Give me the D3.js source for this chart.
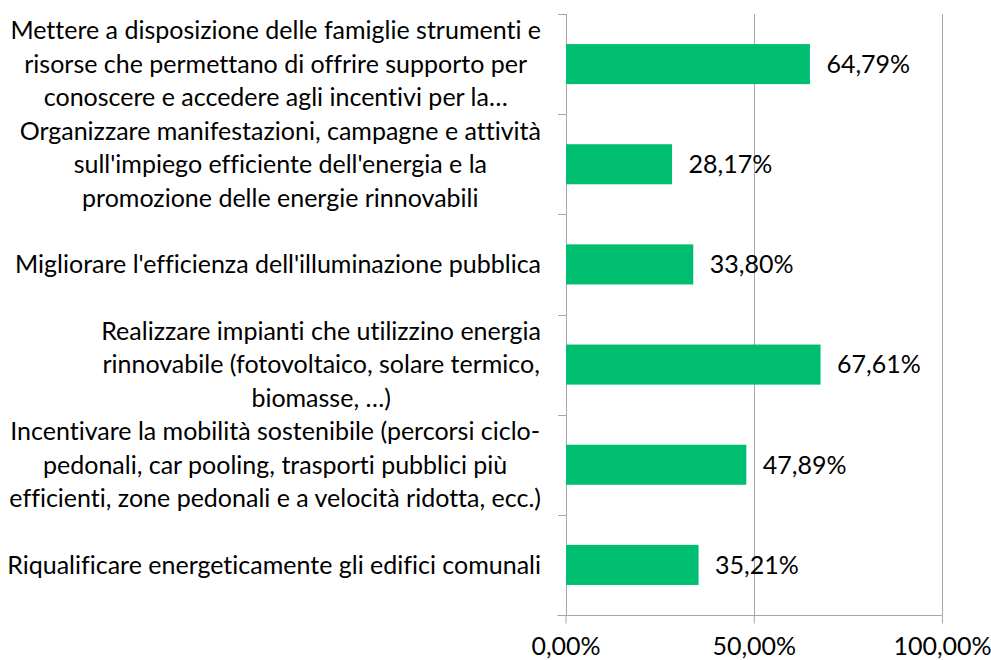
<!DOCTYPE html>
<html>
<head>
<meta charset="utf-8">
<script src="https://cdn.jsdelivr.net/npm/d3@7"></script>
<style>
  body { margin: 0; background: #fff; }
  svg { display: block; font-family: Lato, "Open Sans", sans-serif; font-variant-ligatures: none; }
</style>
</head>
<body>
<div id="chart"></div>
<script>
// category labels, already split into lines as in the original
const categories = [
  ["Mettere a disposizione delle famiglie strumenti e",
   "risorse che permettano di offrire supporto per",
   "conoscere e accedere agli incentivi per la…"],
  ["Organizzare manifestazioni, campagne e attività",
   "sull'impiego efficiente dell'energia e la",
   "promozione delle energie rinnovabili"],
  ["Migliorare l'efficienza dell'illuminazione pubblica"],
  ["Realizzare impianti che utilizzino energia",
   "rinnovabile (fotovoltaico, solare termico,",
   "biomasse, …)"],
  ["Incentivare la mobilità sostenibile (percorsi ciclo-",
   "pedonali, car pooling, trasporti pubblici più",
   "efficienti, zone pedonali e a velocità ridotta, ecc.)"],
  ["Riqualificare energeticamente gli edifici comunali"]
];
const values = [64.79, 28.17, 33.80, 67.61, 47.89, 35.21];
const xTicks = [0, 50, 100];

const width = 991;
const height = 660;
const marginTop = 14;
const marginBottom = 45;
const marginLeft = 565.5;
const marginRight = 49;
const fontSize = 25;
const lineHeight = 33.5;

const fmt = v => d3.format(".2f")(v).replace(".", ",") + "%";

const x = d3.scaleLinear()
    .domain([0, 100])
    .range([marginLeft, width - marginRight]);

const y = d3.scaleBand()
    .domain(d3.range(categories.length))
    .range([marginTop, height - marginBottom])
    .paddingInner(0.6)
    .paddingOuter(0.3);

const svg = d3.create("svg")
    .attr("width", width)
    .attr("height", height)
    .attr("viewBox", [0, 0, width, height]);

// vertical gridlines
svg.append("g")
    .selectAll("line")
    .data(xTicks.slice(1))
    .join("line")
      .attr("x1", d => Math.round(x(d)) + 0.5)
      .attr("x2", d => Math.round(x(d)) + 0.5)
      .attr("y1", marginTop)
      .attr("y2", height - marginBottom)
      .attr("stroke", "#a6a6a6")
      .attr("stroke-width", 1);

// bottom axis
svg.append("g")
    .attr("transform", `translate(0,${Math.round(height - marginBottom) + 0.5})`)
    .call(d3.axisBottom(x).tickValues(xTicks).tickFormat(fmt).tickSize(8).tickSizeOuter(0).tickPadding(14))
    .call(g => g.select(".domain").attr("stroke", "#a6a6a6").attr("d", `M${marginLeft - 8},0H${x(100)}`))
    .call(g => g.selectAll(".tick line").attr("stroke", "#a6a6a6"))
    .call(g => g.selectAll(".tick text")
        .attr("font-family", "Lato, sans-serif")
        .attr("font-size", fontSize)
        .attr("fill", "#000"));

// left axis line with ticks at band edges
const bandEdges = d3.range(categories.length + 1).map(i => marginTop + i * (height - marginBottom - marginTop) / categories.length);
const yAxis = svg.append("g");
yAxis.append("line")
    .attr("x1", Math.round(marginLeft) + 0.5)
    .attr("x2", Math.round(marginLeft) + 0.5)
    .attr("y1", marginTop)
    .attr("y2", height - marginBottom)
    .attr("stroke", "#a6a6a6");
yAxis.selectAll(".edge")
    .data(bandEdges)
    .join("line")
      .attr("class", "edge")
      .attr("x1", Math.round(marginLeft) - 8)
      .attr("x2", Math.round(marginLeft) + 0.5)
      .attr("y1", d => Math.round(d) + 0.5)
      .attr("y2", d => Math.round(d) + 0.5)
      .attr("stroke", "#a6a6a6");

// bars
svg.append("g")
    .attr("fill", "#00be6f")
    .selectAll("rect")
    .data(values)
    .join("rect")
      .attr("x", x(0) + 0.5)
      .attr("y", (d, i) => y(i))
      .attr("width", d => x(d) - x(0))
      .attr("height", y.bandwidth());

// value labels
svg.append("g")
    .attr("font-size", fontSize)
    .attr("fill", "#000")
    .selectAll("text")
    .data(values)
    .join("text")
      .attr("x", d => x(d) + 17)
      .attr("y", (d, i) => y(i) + y.bandwidth() / 2)
      .attr("dy", "0.35em")
      .text(fmt);

// category labels: block right-aligned to the axis, lines centred inside it
const labels = svg.append("g")
    .attr("font-size", fontSize)
    .attr("fill", "#000")
    .attr("text-anchor", "middle");

d3.select("#chart").node().append(svg.node());

categories.forEach((lines, i) => {
  const g = labels.append("g");
  const texts = g.selectAll("text")
      .data(lines)
      .join("text")
        .attr("y", (d, j) => y(i) + y.bandwidth() / 2 + (j - (lines.length - 1) / 2) * lineHeight)
        .attr("dy", "0.35em")
        .text(d => d);
  const maxW = d3.max(texts.nodes(), n => n.getComputedTextLength());
  texts.attr("x", 541 - maxW / 2);
});
</script>
</body>
</html>
